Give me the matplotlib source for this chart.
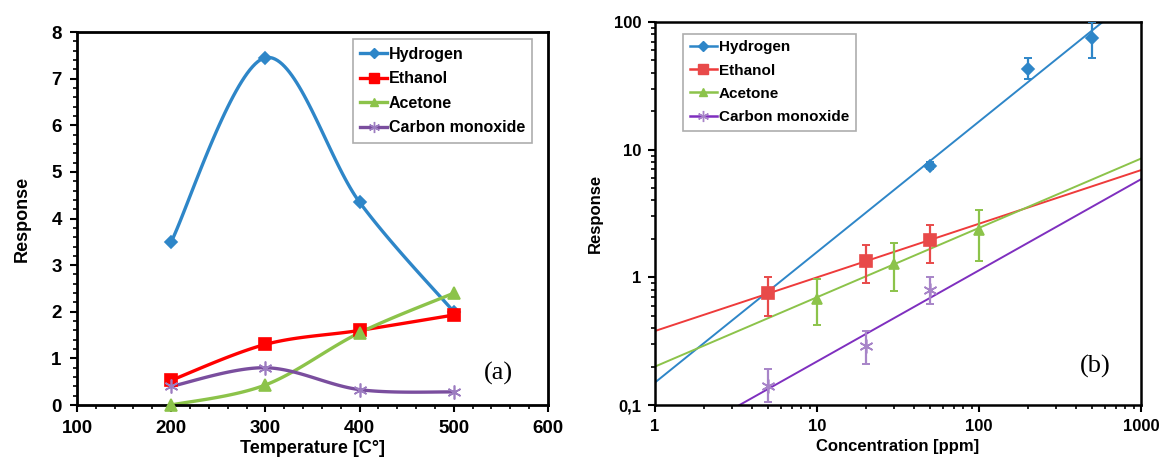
import numpy as np
import matplotlib
matplotlib.use("Agg")
import matplotlib.pyplot as plt
from matplotlib.ticker import MultipleLocator, FixedLocator, FixedFormatter, LogLocator, NullFormatter
from matplotlib.lines import Line2D

plt.rcParams['font.family'] = ['Liberation Sans', 'DejaVu Sans']
plt.rcParams['font.weight'] = 'bold'

# ---- (a) response vs operating temperature ----
temperature = [200, 300, 400, 500]
h2_temp = [3.5, 7.45, 4.35, 2.0]
ethanol_temp = [0.53, 1.3, 1.6, 1.93]
acetone_temp = [0.0, 0.43, 1.55, 2.4]
co_temp = [0.4, 0.8, 0.33, 0.28]

# ---- (b) response vs concentration ----
h2_conc = [50, 200, 500]
h2_resp = [7.5, 43, 75]
h2_lo = [7.0, 36, 52]
h2_hi = [8.0, 52, 100]

eth_conc = [5, 20, 50]
eth_resp = [0.75, 1.35, 1.95]
eth_lo = [0.5, 0.9, 1.3]
eth_hi = [1.0, 1.8, 2.55]

ace_conc = [10, 30, 100]
ace_resp = [0.68, 1.28, 2.35]
ace_lo = [0.42, 0.78, 1.35]
ace_hi = [0.97, 1.85, 3.4]

co_conc = [5, 20, 50]
co_resp = [0.14, 0.29, 0.8]
co_lo = [0.105, 0.21, 0.62]
co_hi = [0.19, 0.38, 1.0]

# power-law trend lines: response = coef * concentration ** exponent
trend_coef = {'Hydrogen': 0.15, 'Ethanol': 0.38, 'Acetone': 0.2, 'Carbon monoxide': 0.0424}
trend_exp = {'Hydrogen': 1.022, 'Ethanol': 0.42, 'Acetone': 0.543, 'Carbon monoxide': 0.7136}

names = ['Hydrogen', 'Ethanol', 'Acetone', 'Carbon monoxide']
colors_a = ['#2E86C8', '#FF0000', '#8CC34A', '#7A4E9E']
marks_a = ['#2E86C8', '#FF0000', '#8CC34A', '#9C7CC0']
line_b = ['#2E86C8', '#EE3B3B', '#8CC34A', '#7F2FBF']
mark_b = ['#2E86C8', '#E84A4A', '#8CC34A', '#A784C8']
markers = ['D', 's', '^', (6, 2, 0)]
msizes_a = [6, 9, 8, 10]


def smooth(xs, ys, n=40):
    """Bezier smoothing through the points (Excel-style smoothed line)."""
    P = np.column_stack([xs, ys]).astype(float)
    m = len(P)
    out = []
    for i in range(m - 1):
        p0 = P[max(i - 1, 0)]
        p1 = P[i]
        p2 = P[i + 1]
        p3 = P[min(i + 2, m - 1)]
        c1 = p1 + (p2 - p0) / 6.0
        c2 = p2 - (p3 - p1) / 6.0
        t = np.linspace(0, 1, n)[:, None]
        seg = ((1 - t) ** 3) * p1 + 3 * ((1 - t) ** 2) * t * c1 + 3 * (1 - t) * t ** 2 * c2 + t ** 3 * p2
        out.append(seg if i == 0 else seg[1:])
    s = np.vstack(out)
    return s[:, 0], s[:, 1]


fig = plt.figure(figsize=(11.59, 4.59), dpi=100)

axa = fig.add_axes([0.0664, 0.1176, 0.4064, 0.8126])
series_a = [h2_temp, ethanol_temp, acetone_temp, co_temp]
handles = []
for name, ys, c, mc, mk, ms in zip(names, series_a, colors_a, marks_a, markers, msizes_a):
    sx, sy = smooth(temperature, ys)
    axa.plot(sx, sy, color=c, lw=2.4, zorder=2)
    axa.plot(temperature, ys, ls='none', marker=mk, color=mc, ms=ms,
             mec=mc, mew=1.2, zorder=3, clip_on=False)
    handles.append(Line2D([], [], color=c, lw=2.4, marker=mk, ms=ms * 0.8, mec=mc, mfc=mc, mew=1.0))

axa.set_xlim(100, 600)
axa.set_ylim(0, 8)
axa.xaxis.set_major_locator(MultipleLocator(100))
axa.xaxis.set_minor_locator(MultipleLocator(20))
axa.yaxis.set_major_locator(MultipleLocator(1))
axa.yaxis.set_minor_locator(MultipleLocator(0.2))
axa.tick_params(which='major', direction='out', length=5, width=1.5, labelsize=13.5, pad=6)
axa.tick_params(which='minor', direction='out', length=3, width=1.2)
for lab in axa.get_xticklabels() + axa.get_yticklabels():
    lab.set_fontweight('bold')
for sp in axa.spines.values():
    sp.set_linewidth(2)
axa.set_xlabel('Temperature [C°]', fontsize=13, fontweight='bold', labelpad=2)
axa.set_ylabel('Response', fontsize=13, fontweight='bold', labelpad=15)
leg = axa.legend(handles, names, loc='upper right', bbox_to_anchor=(0.967, 0.98),
                 fontsize=11.5, frameon=True, fancybox=False, handlelength=1.7,
                 handletextpad=0.1, borderpad=0.45, labelspacing=0.6, borderaxespad=0)
leg.get_frame().set_edgecolor('#999999')
leg.get_frame().set_linewidth(1.2)
for t in leg.get_texts():
    t.set_fontweight('bold')
axa.text(0.895, 0.085, '(a)', transform=axa.transAxes, family='Liberation Serif',
         fontweight='normal', fontsize=19, ha='center', va='center')

axb = fig.add_axes([0.5651, 0.1176, 0.4193, 0.8344])
axb.set_xscale('log')
axb.set_yscale('log')
xx = np.logspace(0, 3, 200)
pts = [(h2_conc, h2_resp, h2_lo, h2_hi), (eth_conc, eth_resp, eth_lo, eth_hi),
       (ace_conc, ace_resp, ace_lo, ace_hi), (co_conc, co_resp, co_lo, co_hi)]
msizes_b = [6, 9, 7, 10]
handles_b = []
for name, (cx, cy, lo, hi), lc, mc, mk, ms in zip(names, pts, line_b, mark_b, markers, msizes_b):
    axb.plot(xx, trend_coef[name] * xx ** trend_exp[name], color=lc, lw=1.4, zorder=2)
    cy = np.array(cy)
    yerr = [cy - np.array(lo), np.array(hi) - cy]
    axb.errorbar(cx, cy, yerr=yerr, fmt='none', ecolor=mc, elinewidth=1.6,
                 capsize=3, capthick=1.4, zorder=3)
    axb.plot(cx, cy, ls='none', marker=mk, color=mc, ms=ms, mec=mc, mew=1.2, zorder=4)
    handles_b.append(Line2D([], [], color=lc, lw=1.8, marker=mk, ms=ms * 0.8, mec=mc, mfc=mc, mew=1.0))

axb.set_xlim(1, 1000)
axb.set_ylim(0.1, 100)
axb.xaxis.set_major_locator(FixedLocator([1, 10, 100, 1000]))
axb.xaxis.set_major_formatter(FixedFormatter(['1', '10', '100', '1000']))
axb.yaxis.set_major_locator(FixedLocator([0.1, 1, 10, 100]))
axb.yaxis.set_major_formatter(FixedFormatter(['0,1', '1', '10', '100']))
axb.xaxis.set_minor_locator(LogLocator(base=10, subs=np.arange(2, 10)))
axb.yaxis.set_minor_locator(LogLocator(base=10, subs=np.arange(2, 10)))
axb.xaxis.set_minor_formatter(NullFormatter())
axb.yaxis.set_minor_formatter(NullFormatter())
axb.tick_params(which='major', direction='out', length=5, width=1.5, labelsize=12, pad=5)
axb.tick_params(which='minor', direction='out', length=3, width=1.2)
for lab in axb.get_xticklabels() + axb.get_yticklabels():
    lab.set_fontweight('bold')
for sp in axb.spines.values():
    sp.set_linewidth(1.8)
axb.set_xlabel('Concentration [ppm]', fontsize=12, fontweight='bold', labelpad=4)
axb.set_ylabel('Response', fontsize=12, fontweight='bold', labelpad=8)
legb = axb.legend(handles_b, names, loc='upper left', bbox_to_anchor=(0.057, 0.97),
                  fontsize=11, frameon=True, fancybox=False, handlelength=1.8,
                  handletextpad=0.1, borderpad=0.45, labelspacing=0.6, borderaxespad=0)
legb.get_frame().set_edgecolor('#999999')
legb.get_frame().set_linewidth(1.2)
for t in legb.get_texts():
    t.set_fontweight('bold')
axb.text(0.905, 0.1, '(b)', transform=axb.transAxes, family='Liberation Serif',
         fontweight='normal', fontsize=19, ha='center', va='center')

fig.savefig('out.png', dpi=100)
